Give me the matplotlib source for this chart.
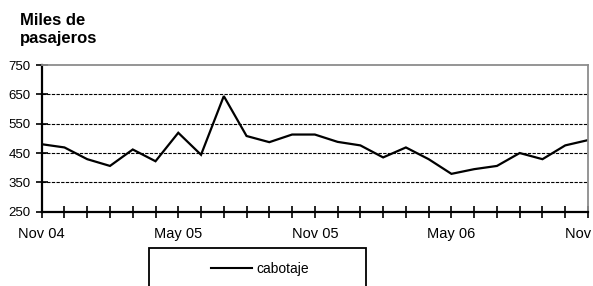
import matplotlib
matplotlib.use("Agg")
import matplotlib.pyplot as plt
from matplotlib.patches import Rectangle
from matplotlib.lines import Line2D

plt.rcParams['font.family'] = ['Liberation Sans', 'DejaVu Sans']

# Data
months = ["Nov 04", "Dic 04", "Ene 05", "Feb 05", "Mar 05", "Abr 05", "May 05",
          "Jun 05", "Jul 05", "Ago 05", "Sep 05", "Oct 05", "Nov 05", "Dic 05",
          "Ene 06", "Feb 06", "Mar 06", "Abr 06", "May 06", "Jun 06", "Jul 06",
          "Ago 06", "Sep 06", "Oct 06", "Nov 06"]
cabotaje = [480, 469, 429, 406, 462, 422, 519, 444, 644, 508, 487, 513, 513,
            488, 476, 435, 469, 429, 379, 395, 406, 450, 429, 476, 494]
shown_labels = ["Nov 04", "May 05", "Nov 05", "May 06", "Nov 06"]
y_ticks = [250, 350, 450, 550, 650, 750]
series_name = "cabotaje"
y_title_lines = ["Miles de", "pasajeros"]

W, H = 593, 286
fig = plt.figure(figsize=(W / 100, H / 100), dpi=100)
ax = fig.add_axes([41.7 / W, 1 - 211.7 / H, (588 - 41.7) / W, (211.7 - 65) / H])

x = list(range(len(months)))
line, = ax.plot(x, cabotaje, color='black', lw=1.6, solid_joinstyle='miter')

ax.set_xlim(0, len(months) - 1)
ax.set_ylim(y_ticks[0], y_ticks[-1])
ax.set_yticks(y_ticks)
ax.set_yticklabels([str(v) for v in y_ticks], fontsize=9.5)
ax.set_xticks(x)
ax.set_xticklabels([m if m in shown_labels else "" for m in months], fontsize=10.5)

for v in y_ticks[1:-1]:
    ax.axhline(v, color='black', lw=0.8, dashes=(3, 1.2), zorder=1)

ax.tick_params(axis='x', direction='inout', length=9, width=1.2, pad=6.5)
ax.tick_params(axis='y', direction='inout', length=9, width=1.2, pad=3.5)

for s in ['left', 'bottom']:
    ax.spines[s].set_color('black')
    ax.spines[s].set_linewidth(1.6)
for s in ['top', 'right']:
    ax.spines[s].set_color('#8c8c8c')
    ax.spines[s].set_linewidth(1.3)

fig.text(20 / W, 1 - 25 / H, y_title_lines[0], fontsize=12, fontweight='bold', va='baseline', ha='left')
fig.text(20 / W, 1 - 43 / H, y_title_lines[1], fontsize=12, fontweight='bold', va='baseline', ha='left')

# Legend box
rect = Rectangle((149 / W, -0.2), (366 - 149) / W, (1 - 248 / H) + 0.2,
                 transform=fig.transFigure, fill=False, edgecolor='black', lw=1.3)
fig.patches.append(rect)
fig.legend([Line2D([0], [0], color='black', lw=1.5)], [series_name],
           loc='center left', bbox_to_anchor=(211 / W, 1 - 269 / H),
           frameon=False, fontsize=10, handlelength=2.95, handletextpad=0.3,
           borderpad=0, borderaxespad=0)

fig.savefig("out.png", dpi=100)
